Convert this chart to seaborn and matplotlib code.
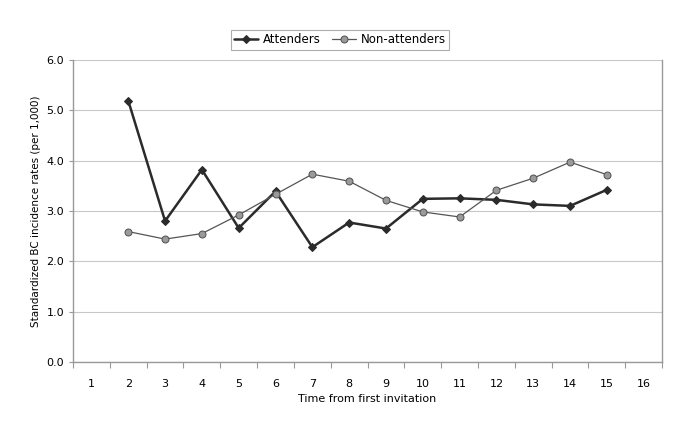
import numpy as np
import pandas as pd
import seaborn as sns
import matplotlib.pyplot as plt
from matplotlib.ticker import FixedLocator

sns.set_theme(style="white")
plt.rcParams["font.family"] = ["DejaVu Sans"]
plt.rcParams["text.color"] = "black"
plt.rcParams["axes.labelcolor"] = "black"

# datos
years = list(range(2, 16))
attenders = [5.19, 2.80, 3.82, 2.66, 3.39, 2.28, 2.77, 2.65, 3.24, 3.25, 3.22, 3.13, 3.10, 3.42]
non_attenders = [2.59, 2.44, 2.55, 2.92, 3.33, 3.73, 3.59, 3.21, 2.98, 2.88, 3.41, 3.65, 3.97, 3.72]
x_ticks = list(range(1, 17))
y_ticks = [0.0, 1.0, 2.0, 3.0, 4.0, 5.0, 6.0]

df = pd.DataFrame({
    "time": years * 2,
    "rate": attenders + non_attenders,
    "group": ["Attenders"] * len(years) + ["Non-attenders"] * len(years),
})

fig = plt.figure(figsize=(6.85, 4.34), dpi=100)
ax = fig.add_axes([0.1066, 0.166, 0.86, 0.696])

sns.lineplot(data=df[df["group"] == "Attenders"], x="time", y="rate", ax=ax,
             color="#2b2b2b", lw=1.8, marker="D", markersize=4.5,
             markeredgecolor="#2b2b2b", label="Attenders")
sns.lineplot(data=df[df["group"] == "Non-attenders"], x="time", y="rate", ax=ax,
             color="#555555", lw=0.9, marker="o", markersize=5,
             markerfacecolor="#9a9a9a", markeredgecolor="#555555", label="Non-attenders")

ax.set_xlim(0.5, 16.5)
ax.set_ylim(0, 6)
ax.set_xticks(x_ticks)
ax.set_xticklabels([str(t) for t in x_ticks], fontsize=8)
ax.xaxis.set_minor_locator(FixedLocator(np.arange(0.5, 17, 1)))
ax.tick_params(axis="x", which="major", length=0, pad=12, labelcolor="black")
ax.tick_params(axis="x", which="minor", bottom=True, length=4, width=0.8,
               color="#999999", direction="out")
ax.set_yticks(y_ticks)
ax.set_yticklabels([f"{v:.1f}" for v in y_ticks], fontsize=8)
ax.tick_params(axis="y", length=3, width=0.8, color="#999999", direction="out",
               left=True, labelcolor="black")

ax.grid(axis="y", color="#c8c8c8", lw=0.8)
ax.set_axisbelow(True)
for side in ["left", "bottom", "right"]:
    ax.spines[side].set_color("#999999")
    ax.spines[side].set_linewidth(1.0)
ax.spines["top"].set_visible(False)

ax.set_xlabel("Time from first invitation", fontsize=8, labelpad=4)
ax.set_ylabel("Standardized BC incidence rates (per 1,000)", fontsize=7.5)

leg = ax.legend(loc="upper center", bbox_to_anchor=(0.453, 1.12), ncol=2, fontsize=8.5,
                frameon=True, fancybox=False, edgecolor="#999999",
                handlelength=2.0, columnspacing=1.0, borderpad=0.3, handletextpad=0.4)
leg.get_frame().set_linewidth(0.8)

fig.savefig("out.png", dpi=100)
